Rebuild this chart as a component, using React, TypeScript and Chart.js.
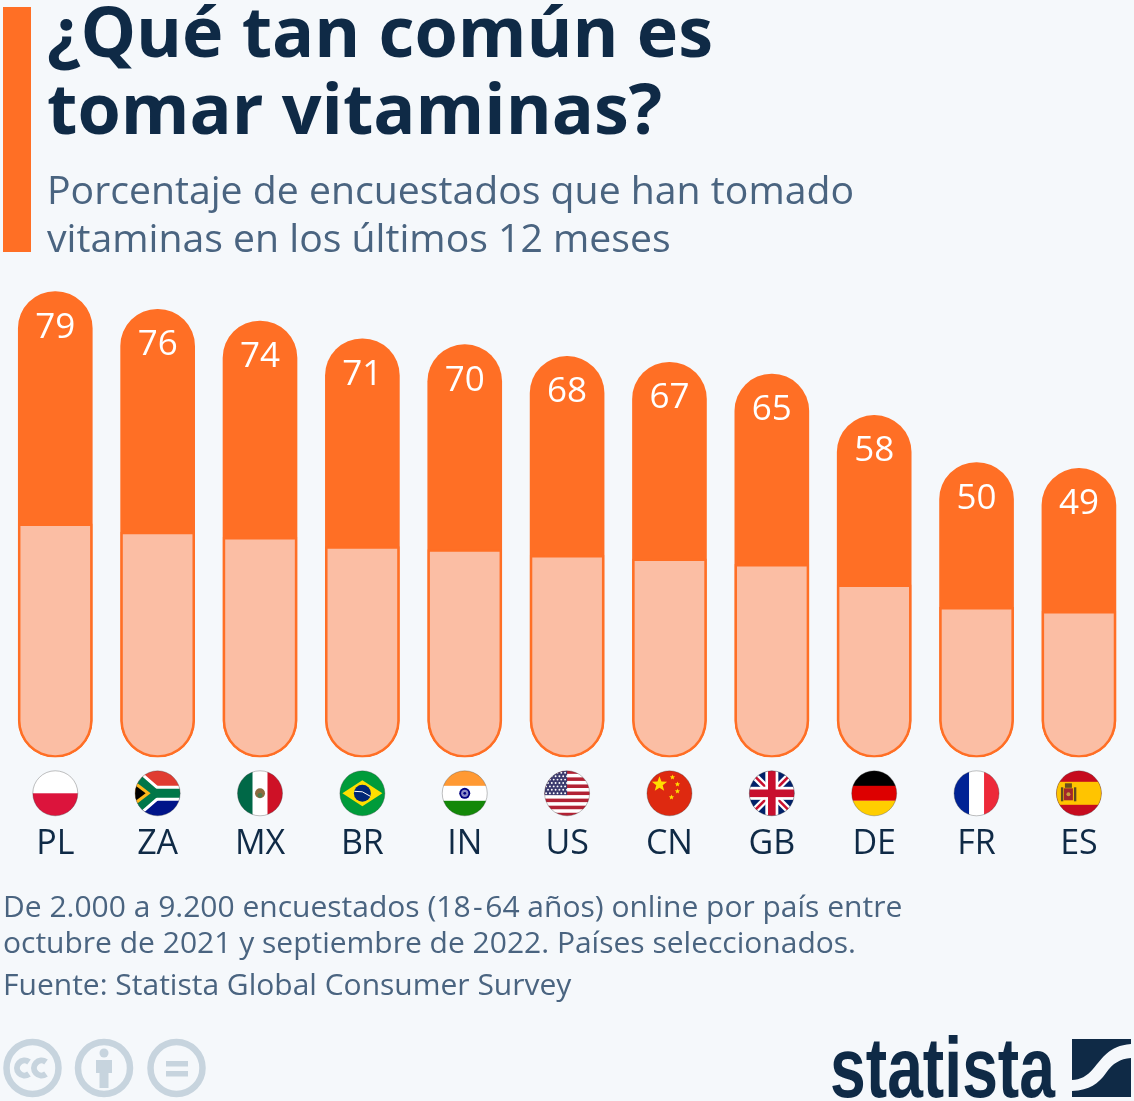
import React, { useEffect, useRef } from "react";
import { Chart, registerables } from "chart.js";

Chart.register(...registerables);

const categories = ["PL", "ZA", "MX", "BR", "IN", "US", "CN", "GB", "DE", "FR", "ES"];
const values = [79, 76, 74, 71, 70, 68, 67, 65, 58, 50, 49];
const lowerFill = [39.6, 38.2, 37.3, 35.75, 35.25, 34.25, 33.65, 32.75, 29.25, 25.45, 24.75];
const titleLines = ["¿Qué tan común es", "tomar vitaminas?"];
const subtitleLines = ["Porcentaje de encuestados que han tomado", "vitaminas en los últimos 12 meses"];
const noteHead = "De 2.000 a 9.200 encuestados (18";
const noteTail = "64 años) online por país entre";
const noteSecond = "octubre de 2021 y septiembre de 2022. Países seleccionados.";
const sourceLine = "Fuente: Statista Global Consumer Survey";

const ORANGE = "#ff6f25";
const LIGHT = "#fbbea4";
const NAVY = "#0f2a46";
const SLATE = "#4a6480";
const BG = "#f5f8fb";
const FONT = '"Open Sans", sans-serif';

type C = CanvasRenderingContext2D;

function star(ctx: C, x: number, y: number, r: number, color: string) {
  ctx.fillStyle = color;
  ctx.beginPath();
  for (let i = 0; i < 10; i++) {
    const a = -Math.PI / 2 + (i * Math.PI) / 5;
    const q = i % 2 ? r * 0.42 : r;
    ctx.lineTo(x + q * Math.cos(a), y + q * Math.sin(a));
  }
  ctx.closePath();
  ctx.fill();
}

function poly(ctx: C, color: string, pts: number[][]) {
  ctx.fillStyle = color;
  ctx.beginPath();
  pts.forEach((p) => ctx.lineTo(p[0], p[1]));
  ctx.closePath();
  ctx.fill();
}

function line(ctx: C, color: string, w: number, pts: number[][]) {
  ctx.strokeStyle = color;
  ctx.lineWidth = w;
  ctx.beginPath();
  pts.forEach((p) => ctx.lineTo(p[0], p[1]));
  ctx.stroke();
}

function disc(ctx: C, color: string, x: number, y: number, r: number) {
  ctx.fillStyle = color;
  ctx.beginPath();
  ctx.arc(x, y, r, 0, Math.PI * 2);
  ctx.fill();
}

// each painter draws in a -23..23 box centred on the origin
const flagPainters: Record<string, (ctx: C) => void> = {
  PL(ctx) {
    ctx.fillStyle = "#ffffff"; ctx.fillRect(-23, -23, 46, 23);
    ctx.fillStyle = "#dc143c"; ctx.fillRect(-23, 0, 46, 23);
  },
  ZA(ctx) {
    ctx.fillStyle = "#e03c31"; ctx.fillRect(-23, -23, 46, 23);
    ctx.fillStyle = "#001489"; ctx.fillRect(-23, 0, 46, 23);
    line(ctx, "#ffffff", 15, [[-26, -20], [-3, 0], [-26, 20]]);
    line(ctx, "#ffffff", 15, [[-3, 0], [26, 0]]);
    line(ctx, "#007749", 9, [[-26, -20], [-3, 0], [-26, 20]]);
    line(ctx, "#007749", 9, [[-3, 0], [26, 0]]);
    poly(ctx, "#ffb81c", [[-24, -13], [-7, 0], [-24, 13]]);
    poly(ctx, "#000000", [[-24, -9], [-12, 0], [-24, 9]]);
  },
  MX(ctx) {
    ctx.fillStyle = "#006847"; ctx.fillRect(-23, -23, 16, 46);
    ctx.fillStyle = "#ffffff"; ctx.fillRect(-7.5, -23, 15, 46);
    ctx.fillStyle = "#ce1126"; ctx.fillRect(7.5, -23, 16, 46);
    disc(ctx, "#8c6b3f", 0, 0, 5);
    disc(ctx, "#4f7a4a", 0, 2, 2.4);
  },
  BR(ctx) {
    ctx.fillStyle = "#009b3a"; ctx.fillRect(-23, -23, 46, 46);
    poly(ctx, "#fedf00", [[-20, 0], [0, -13], [20, 0], [0, 13]]);
    disc(ctx, "#002776", 0, 0, 8.5);
    line(ctx, "#ffffff", 1, [[-8, -2], [0, -1.5], [8, 3]]);
  },
  IN(ctx) {
    ctx.fillStyle = "#ff9933"; ctx.fillRect(-23, -23, 46, 16);
    ctx.fillStyle = "#ffffff"; ctx.fillRect(-23, -7.5, 46, 15);
    ctx.fillStyle = "#138808"; ctx.fillRect(-23, 7.5, 46, 16);
    disc(ctx, "#000080", 0, 0, 5.5);
    disc(ctx, "#8d8dc8", 0, 0, 3.6);
    disc(ctx, "#000080", 0, 0, 1.4);
  },
  US(ctx) {
    ctx.fillStyle = "#ffffff"; ctx.fillRect(-23, -23, 46, 46);
    ctx.fillStyle = "#b22234";
    for (let i = 0; i < 7; i++) ctx.fillRect(-23, -23 + (i * 2 * 46) / 13, 46, 46 / 13);
    ctx.fillStyle = "#3c3b6e"; ctx.fillRect(-23, -23, 23, 24.8);
    for (let r = 0; r < 7; r++) {
      for (let c = 0; c < 6; c++) {
        disc(ctx, "#ffffff", -21 + c * 3.8 + (r % 2 ? 1.9 : 0), -20.5 + r * 3.4, 0.95);
      }
    }
  },
  CN(ctx) {
    ctx.fillStyle = "#de2910"; ctx.fillRect(-23, -23, 46, 46);
    star(ctx, -10, -9, 8, "#ffde00");
    star(ctx, 3, -16, 2.8, "#ffde00");
    star(ctx, 8, -9, 2.8, "#ffde00");
    star(ctx, 8, -2, 2.8, "#ffde00");
    star(ctx, 2, 4, 2.8, "#ffde00");
  },
  GB(ctx) {
    ctx.fillStyle = "#012169"; ctx.fillRect(-23, -23, 46, 46);
    line(ctx, "#ffffff", 7, [[-23, -23], [23, 23]]);
    line(ctx, "#ffffff", 7, [[-23, 23], [23, -23]]);
    line(ctx, "#c8102e", 2.6, [[-23, -23], [23, 23]]);
    line(ctx, "#c8102e", 2.6, [[-23, 23], [23, -23]]);
    ctx.fillStyle = "#ffffff"; ctx.fillRect(-6.5, -23, 13, 46); ctx.fillRect(-23, -6.5, 46, 13);
    ctx.fillStyle = "#c8102e"; ctx.fillRect(-3.8, -23, 7.6, 46); ctx.fillRect(-23, -3.8, 46, 7.6);
  },
  DE(ctx) {
    ctx.fillStyle = "#000000"; ctx.fillRect(-23, -23, 46, 16);
    ctx.fillStyle = "#dd0000"; ctx.fillRect(-23, -7.5, 46, 15);
    ctx.fillStyle = "#ffce00"; ctx.fillRect(-23, 7.5, 46, 16);
  },
  FR(ctx) {
    ctx.fillStyle = "#002395"; ctx.fillRect(-23, -23, 16, 46);
    ctx.fillStyle = "#ffffff"; ctx.fillRect(-7.5, -23, 15, 46);
    ctx.fillStyle = "#ed2939"; ctx.fillRect(7.5, -23, 16, 46);
  },
  ES(ctx) {
    ctx.fillStyle = "#c60b1e"; ctx.fillRect(-23, -23, 46, 46);
    ctx.fillStyle = "#ffc400"; ctx.fillRect(-23, -11.5, 46, 23);
    ctx.fillStyle = "#a3262a"; ctx.fillRect(-15, -5, 9, 12);
    ctx.fillStyle = "#5f4a20"; ctx.fillRect(-18, -6, 2.4, 14); ctx.fillRect(-5, -6, 2.4, 14);
    ctx.fillStyle = "#6a4f1c"; ctx.fillRect(-14, -10, 7, 4.5);
    disc(ctx, "#c8a03c", -10.5, 1, 2);
  },
};

const decorationsPlugin = {
  id: "decorations",
  afterDatasetsDraw(chart: any) {
    const ctx: C = chart.ctx;
    const x = chart.scales.x;
    const y = chart.scales.y;
    ctx.save();
    ctx.font = `500 35px ${FONT}`;
    ctx.fillStyle = "#ffffff";
    ctx.textAlign = "center";
    ctx.textBaseline = "middle";
    values.forEach((v, i) => {
      ctx.fillText(String(v), x.getPixelForValue(i), y.getPixelForValue(v) + 36);
    });
    ctx.restore();

    const r = 22.5;
    const cy = y.getPixelForValue(0) + 36;
    categories.forEach((code, i) => {
      const cx = x.getPixelForValue(i);
      ctx.save();
      ctx.beginPath();
      ctx.arc(cx, cy, r, 0, Math.PI * 2);
      ctx.clip();
      ctx.translate(cx, cy);
      flagPainters[code](ctx);
      ctx.restore();
      ctx.save();
      ctx.beginPath();
      ctx.arc(cx, cy, r, 0, Math.PI * 2);
      ctx.strokeStyle = "rgba(60,60,60,0.55)";
      ctx.lineWidth = 0.6;
      ctx.stroke();
      ctx.restore();
    });
  },
};

const textStyle = (left: number, top: number, size: number, lh: number, color: string, weight = 400): React.CSSProperties => ({
  position: "absolute",
  left,
  top,
  margin: 0,
  fontFamily: FONT,
  fontSize: size,
  lineHeight: `${lh}px`,
  color,
  fontWeight: weight,
  whiteSpace: "pre",
});

export default function App() {
  const ref = useRef<HTMLCanvasElement>(null);

  useEffect(() => {
    document.body.style.margin = "0";
    document.body.style.background = BG;
    const chart = new Chart(ref.current as HTMLCanvasElement, {
      type: "bar",
      data: {
        labels: categories,
        datasets: [
          {
            label: "Parte inferior",
            data: lowerFill,
            backgroundColor: LIGHT,
            borderColor: ORANGE,
            borderWidth: 2.5,
            borderSkipped: false,
            borderRadius: { topLeft: 0, topRight: 0, bottomLeft: 37, bottomRight: 37 },
            barThickness: 74,
            grouped: false,
            order: 1,
          },
          {
            label: "Han tomado vitaminas",
            data: values,
            backgroundColor: ORANGE,
            borderWidth: 0,
            borderSkipped: false,
            borderRadius: 37,
            barThickness: 74,
            grouped: false,
            order: 2,
          },
        ],
      },
      options: {
        responsive: false,
        animation: false,
        layout: { padding: { left: 4.1, right: 3.9, top: 167.8, bottom: 0 } },
        plugins: { legend: { display: false }, tooltip: { enabled: false } },
        scales: {
          y: { display: false, min: 0, max: 100 },
          x: {
            grid: { display: false, drawTicks: false },
            border: { display: false },
            afterFit: (s: any) => {
              s.height = 343.7;
              s.paddingLeft = 0;
              s.paddingRight = 0;
            },
            ticks: {
              color: NAVY,
              padding: 67,
              maxRotation: 0,
              autoSkip: false,
              font: { family: "Open Sans", size: 34 },
            },
          },
        },
      },
      plugins: [decorationsPlugin],
    } as any);
    return () => chart.destroy();
  }, []);

  return (
    <div style={{ position: "absolute", left: 0, top: 0, width: 1134, height: 1101, background: BG, overflow: "hidden" }}>
      <canvas ref={ref} width={1134} height={1101} style={{ position: "absolute", left: 0, top: 0, display: "block" }} />
      <div style={{ position: "absolute", left: 3, top: 7, width: 28, height: 245, background: ORANGE }} />
      <h1 style={textStyle(47, -8, 70, 77, NAVY, 700)}>{titleLines.join("\n")}</h1>
      <div style={textStyle(47, 165, 39.2, 48, SLATE)}>{subtitleLines.join("\n")}</div>
      <div style={textStyle(3, 888, 30, 36, SLATE)}>
        {noteHead}
        <span style={{ margin: "0 2.5px" }}>-</span>
        {noteTail}
        {"\n"}
        {noteSecond}
      </div>
      <div style={textStyle(3, 965, 30, 37, SLATE)}>{sourceLine}</div>

      <svg width={1134} height={1101} style={{ position: "absolute", left: 0, top: 0, pointerEvents: "none" }}>
        <g fill="none" stroke="#c7d4de" strokeWidth={6.5}>
          <circle cx={32.5} cy={1068} r={26} />
          <circle cx={104} cy={1068} r={26} />
          <circle cx={176.5} cy={1068} r={26} />
          <path d="M29,1062 a7.5,7.5 0 1 0 0,12" strokeWidth={6} />
          <path d="M46,1062 a7.5,7.5 0 1 0 0,12" strokeWidth={6} />
        </g>
        <g fill="#c7d4de">
          <circle cx={104} cy={1053} r={4.5} />
          <path d="M96,1060 H112 V1073 H108.5 V1088 H99.5 V1073 H96 Z" />
          <rect x={166} y={1061} width={22} height={5.5} />
          <rect x={166} y={1071} width={22} height={5.5} />
        </g>
        <g fill={NAVY}>
          <path d="M1072,1039 H1131 V1044 C1108,1046 1103,1058 1093,1069 C1087,1076 1080,1080 1072,1080 Z" />
          <path d="M1131,1058 V1097 H1072 V1091 C1090,1090 1098,1084 1106,1073 C1113,1063 1120,1059 1131,1058 Z" />
        </g>
        <text
          x={830}
          y={1097}
          textLength={225}
          lengthAdjust="spacingAndGlyphs"
          fontFamily='"Liberation Sans Narrow", "Liberation Sans", sans-serif'
          fontWeight={700}
          fontSize={85}
          fill={NAVY}
        >
          statista
        </text>
      </svg>
    </div>
  );
}
